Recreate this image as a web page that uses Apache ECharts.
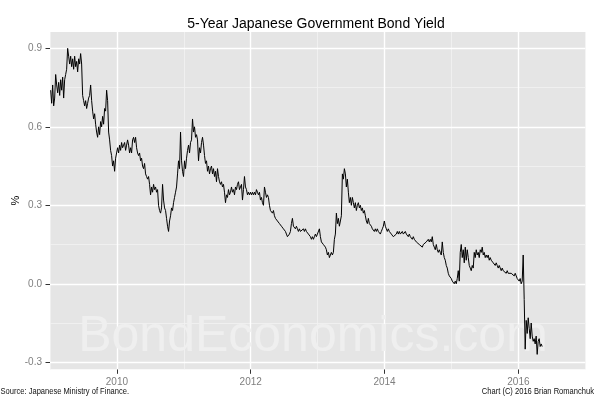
<!DOCTYPE html>
<html><head><meta charset="utf-8">
<script src="https://cdn.jsdelivr.net/npm/echarts@6/dist/echarts.min.js"></script>
<style>html,body{margin:0;padding:0;background:#fff}#c{width:600px;height:400px}</style>
</head><body><div id="c"></div>
<script>
const titleText = '5-Year Japanese Government Bond Yield';
const yAxisName = '%';
const sourceText = 'Source: Japanese Ministry of Finance.';
const creditText = 'Chart (C) 2016 Brian Romanchuk';
const watermarkText = 'BondEconomics.com';

const xTickYears = [2010, 2012, 2014, 2016];
const xMinorYears = [2009, 2011, 2013, 2015, 2017];
const yTicks = [-0.3, 0, 0.3, 0.6, 0.9];
const yMinorTicks = [-0.15, 0.15, 0.45, 0.75];

// readings taken at a regular spacing (~5.5 days) starting early January 2009
const firstSampleYear = 2009.01;
const sampleStepYears = 0.01493;
const yields = [
 .74,.69,.76,.68,.71,.80,.76,.73,.77,.72,
 .78,.74,.79,.71,.78,.80,.82,.90,.87,.84,
 .87,.83,.86,.82,.87,.83,.85,.81,.86,.84,
 .88,.84,.72,.70,.68,.70,.67,.69,.71,.72,
 .76,.70,.66,.63,.65,.61,.58,.56,.60,.57,
 .62,.60,.64,.61,.67,.66,.74,.70,.58,.55,
 .51,.49,.45,.47,.43,.48,.50,.52,.50,.53,
 .51,.54,.52,.53,.54,.51,.53,.55,.53,.50,
 .52,.50,.55,.56,.54,.56,.52,.50,.49,.50,
 .47,.48,.45,.44,.46,.42,.41,.40,.41,.38,
 .34,.37,.35,.38,.36,.37,.35,.36,.30,.28,
 .27,.29,.38,.32,.29,.28,.25,.22,.20,.24,
 .26,.29,.28,.31,.33,.35,.37,.42,.47,.44,
 .58,.47,.43,.41,.47,.44,.48,.51,.53,.50,
 .54,.55,.63,.58,.60,.56,.57,.55,.47,.52,
 .50,.54,.56,.53,.49,.46,.47,.43,.45,.42,
 .44,.45,.42,.44,.41,.43,.39,.44,.41,.39,
 .38,.39,.37,.38,.35,.31,.34,.33,.36,.34,
 .35,.37,.35,.36,.34,.37,.36,.38,.39,.36,
 .37,.38,.32,.36,.41,.37,.36,.34,.35,.34,
 .35,.34,.35,.34,.35,.34,.36,.35,.34,.35,
 .32,.33,.31,.30,.37,.35,.33,.34,.33,.30,
 .28,.28,.27,.28,.26,.25,.25,.24,.24,.23,
 .23,.22,.22,.21,.21,.20,.19,.18,.18,.19,
 .20,.23,.25,.22,.22,.21,.22,.21,.20,.21,
 .20,.20,.20,.21,.20,.21,.20,.20,.19,.19,
 .18,.17,.18,.17,.18,.19,.18,.19,.19,.21,
 .18,.16,.16,.15,.15,.14,.13,.11,.12,.10,
 .11,.12,.11,.12,.17,.19,.27,.23,.25,.22,
 .24,.26,.42,.40,.44,.42,.37,.40,.35,.31,
 .33,.30,.33,.31,.29,.31,.28,.30,.31,.29,
 .30,.28,.29,.27,.28,.26,.24,.23,.25,.23,
 .23,.22,.21,.21,.20,.21,.20,.21,.20,.20,
 .19,.20,.21,.22,.24,.22,.21,.20,.21,.20,
 .20,.19,.19,.18,.18,.18,.19,.20,.19,.20,
 .19,.19,.20,.19,.19,.20,.19,.19,.18,.19,
 .18,.18,.17,.18,.17,.17,.16,.16,.16,.15,
 .15,.15,.14,.15,.15,.15,.16,.16,.17,.16,
 .17,.16,.18,.15,.14,.13,.15,.13,.12,.13,
 .12,.11,.16,.12,.10,.09,.07,.06,.04,.03,
 .03,.02,.01,.01,.00,.01,.00,.02,.05,.01,
 .12,.15,.10,.13,.08,.14,.09,.13,.10,.07,
 .06,.05,.07,.06,.12,.10,.13,.11,.12,.10,
 .13,.12,.14,.11,.12,.10,.11,.10,.11,.09,
 .10,.09,.09,.08,.08,.07,.08,.07,.06,.07,
 .06,.05,.06,.05,.05,.05,.04,.05,.04,.04,
 .04,.04,.04,.04,.03,.04,.03,.02,.02,.01,
 .02,.00,.01,.11,-.06,-.25,-.14,-.19,-.13,-.17,
 -.21,-.15,-.20,-.22,-.21,-.23,-.20,-.27,-.22,-.21,
 -.24,-.23,-.24
];

const FONT = '"Liberation Sans", Arial, sans-serif';
const chart = echarts.init(document.getElementById('c'), null, {renderer: 'canvas'});

const seriesData = yields.map((v, i) => [firstSampleYear + i * sampleStepYears, v]);

const majorStyle = {color: '#FFFFFF', width: 1.4, type: 'solid'};
const minorStyle = {color: '#F2F2F2', width: 0.8, type: 'solid'};
const gridLines = [].concat(
  xMinorYears.map(v => ({xAxis: v, lineStyle: minorStyle})),
  yMinorTicks.map(v => ({yAxis: v, lineStyle: minorStyle})),
  xTickYears.map(v => ({xAxis: v, lineStyle: majorStyle})),
  yTicks.map(v => ({yAxis: v, lineStyle: majorStyle}))
);

chart.setOption({
  animation: false,
  backgroundColor: '#FFFFFF',
  title: {
    text: titleText, left: 316, top: 17, padding: 0, textAlign: 'center',
    textStyle: {fontFamily: FONT, fontSize: 14, fontWeight: 'normal', color: '#000'}
  },
  grid: {
    left: 50, right: 14.7, top: 32, bottom: 30.7,
    show: true, backgroundColor: '#E5E5E5', borderWidth: 0,
    containLabel: false, outerBoundsMode: 'none'
  },
  xAxis: {
    type: 'value', min: 2009, max: 2017,
    splitLine: {show: false},
    axisLine: {show: false, onZero: false},
    axisTick: {show: true, length: 4.5, customValues: xTickYears, lineStyle: {color: '#333', width: 1}},
    axisLabel: {customValues: xTickYears, formatter: v => String(v), margin: 8,
      color: '#7F7F7F', fontSize: 10, fontFamily: FONT}
  },
  yAxis: {
    type: 'value', min: -0.327, max: 0.9625,
    name: yAxisName, nameLocation: 'middle', nameGap: 29, nameMoveOverlap: false,
    nameTextStyle: {color: '#000', fontSize: 11, fontFamily: FONT},
    splitLine: {show: false},
    axisLine: {show: false, onZero: false},
    axisTick: {show: true, length: 4.5, customValues: yTicks, lineStyle: {color: '#333', width: 1}},
    axisLabel: {customValues: yTicks, formatter: v => Number(v).toFixed(1), margin: 8,
      color: '#7F7F7F', fontSize: 10, fontFamily: FONT}
  },
  graphic: [
    {type: 'text', z: 2, silent: true,
      style: {text: watermarkText, x: 313, y: 337.5, align: 'center', verticalAlign: 'middle',
        textAlign: 'center', textVerticalAlign: 'middle',
        fill: '#EFEFEF', font: '50px "Liberation Sans", Arial, sans-serif'}},
    {type: 'text', z: 2, silent: true, x: 0.5, y: 391.5, scaleX: 0.84,
      style: {text: sourceText, x: 0, y: 0, align: 'left', verticalAlign: 'middle',
        textAlign: 'left', textVerticalAlign: 'middle',
        fill: '#111', font: '9px "Liberation Sans", Arial, sans-serif'}},
    {type: 'text', z: 2, silent: true, x: 594, y: 391.5, scaleX: 0.84,
      style: {text: creditText, x: 0, y: 0, align: 'right', verticalAlign: 'middle',
        textAlign: 'right', textVerticalAlign: 'middle',
        fill: '#111', font: '9px "Liberation Sans", Arial, sans-serif'}}
  ],
  series: [
    {
      type: 'line', data: [], z: 1, silent: true,
      markLine: {z: 1, silent: true, symbol: 'none', animation: false,
        label: {show: false}, emphasis: {disabled: true}, data: gridLines}
    },
    {
      type: 'line', data: seriesData, z: 3, showSymbol: false, silent: true,
      lineStyle: {color: '#000', width: 1}, clip: true
    }
  ]
});
</script>
</body></html>
